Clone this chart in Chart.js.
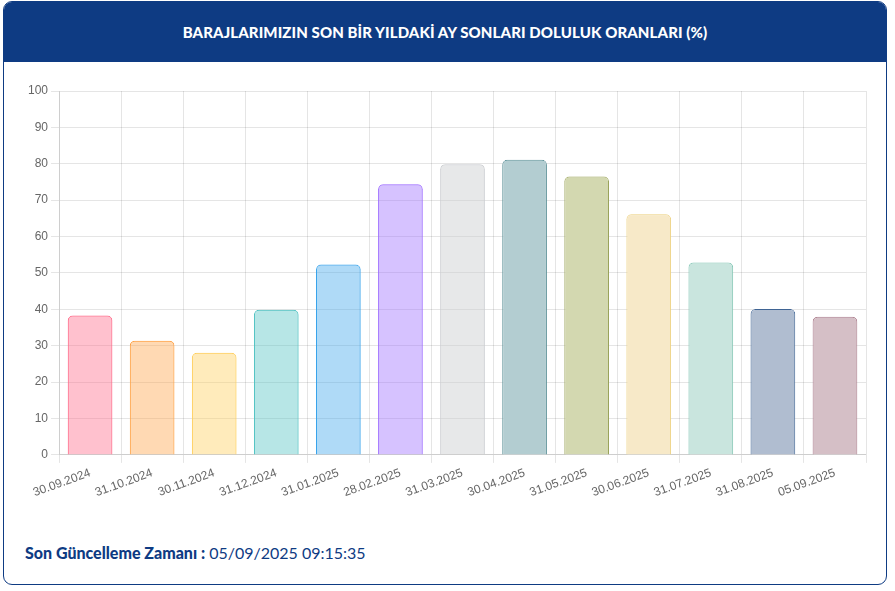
<!DOCTYPE html>
<html lang="tr">
<head>
<meta charset="utf-8">
<script src="https://cdn.jsdelivr.net/npm/chart.js@4.4.1/dist/chart.umd.min.js"></script>
<style>
  html, body { margin: 0; padding: 0; background: #fff; }
  body { width: 895px; height: 591px; position: relative; overflow: hidden; font-family: "Lato", "Inter", sans-serif; }
  .card { position: absolute; left: 3px; top: 1px; width: 884px; height: 584px; border: 1px solid #0e3b83; border-radius: 9px; overflow: hidden; box-sizing: border-box; background: #fff; }
  .head { position: absolute; left: 0; top: 0; right: 0; height: 60px; background: #0e3b83; color: #fff; font-family: "Lato", sans-serif; font-weight: 900; font-size: 15px; text-align: center; line-height: 60px; letter-spacing: 0.1px; }
  .wrap { position: absolute; left: 1px; top: 70px; width: 880px; height: 431px; }
  .foot { position: absolute; left: 21px; top: 541px; font-family: "Lato", sans-serif; font-size: 16px; color: #0e3b83; }
  .foot b { font-weight: 900; }
</style>
</head>
<body>
<div class="card">
  <div class="head">BARAJLARIMIZIN SON BİR YILDAKİ AY SONLARI DOLULUK ORANLARI (%)</div>
  <div class="wrap"><canvas id="c"></canvas></div>
  <div class="foot"><b>Son Güncelleme Zamanı :</b> 05/09/2025 09:15:35</div>
</div>
<script>
const categories = ["30.09.2024","31.10.2024","30.11.2024","31.12.2024","31.01.2025","28.02.2025","31.03.2025","30.04.2025","31.05.2025","30.06.2025","31.07.2025","31.08.2025","05.09.2025"];
const fillRates = [38.3, 31.4, 28.1, 39.9, 52.3, 74.4, 79.9, 81.1, 76.5, 66.1, 52.9, 40.1, 38.0];
const yTicks = [0,10,20,30,40,50,60,70,80,90,100];
const fillColors = ["rgba(255,99,132,0.4)","rgba(255,159,64,0.4)","rgba(255,205,86,0.4)","rgba(75,192,192,0.4)","rgba(54,162,235,0.4)","rgba(153,102,255,0.4)","rgba(201,203,207,0.45)","#b3cdd1","#d3d8b0","#f7e9c8","#c9e5de","#b0bdd0","#d5bfc6"];
const borderColors = ["rgb(255,99,132)","rgb(255,159,64)","rgb(255,205,86)","rgb(75,192,192)","rgb(54,162,235)","rgb(153,102,255)","rgb(201,203,207)","#5b9097","#9aa35a","#ecd07e","#7fc4b2","#3f6494","#a87a8a"];

new Chart(document.getElementById('c'), {
  type: 'bar',
  data: {
    labels: categories,
    datasets: [{
      data: fillRates,
      backgroundColor: fillColors,
      borderColor: borderColors,
      borderWidth: 1,
      borderRadius: 5,
      borderSkipped: 'bottom'
    }]
  },
  options: {
    responsive: true,
    maintainAspectRatio: false,
    animation: false,
    layout: { padding: { left: 20, right: 19, top: 19, bottom: 0 } },
    plugins: { legend: { display: false }, tooltip: { enabled: false } },
    scales: {
      x: {
        ticks: { color: '#666', font: { size: 12 }, minRotation: 20, maxRotation: 20 },
        grid: { color: 'rgba(0,0,0,0.1)' }
      },
      y: {
        min: 0, max: 100,
        afterBuildTicks: (axis) => { axis.ticks = yTicks.map(v => ({ value: v })); },
        ticks: { color: '#666', font: { size: 12 } },
        grid: { color: 'rgba(0,0,0,0.1)' }
      }
    }
  }
});
</script>
</body>
</html>
